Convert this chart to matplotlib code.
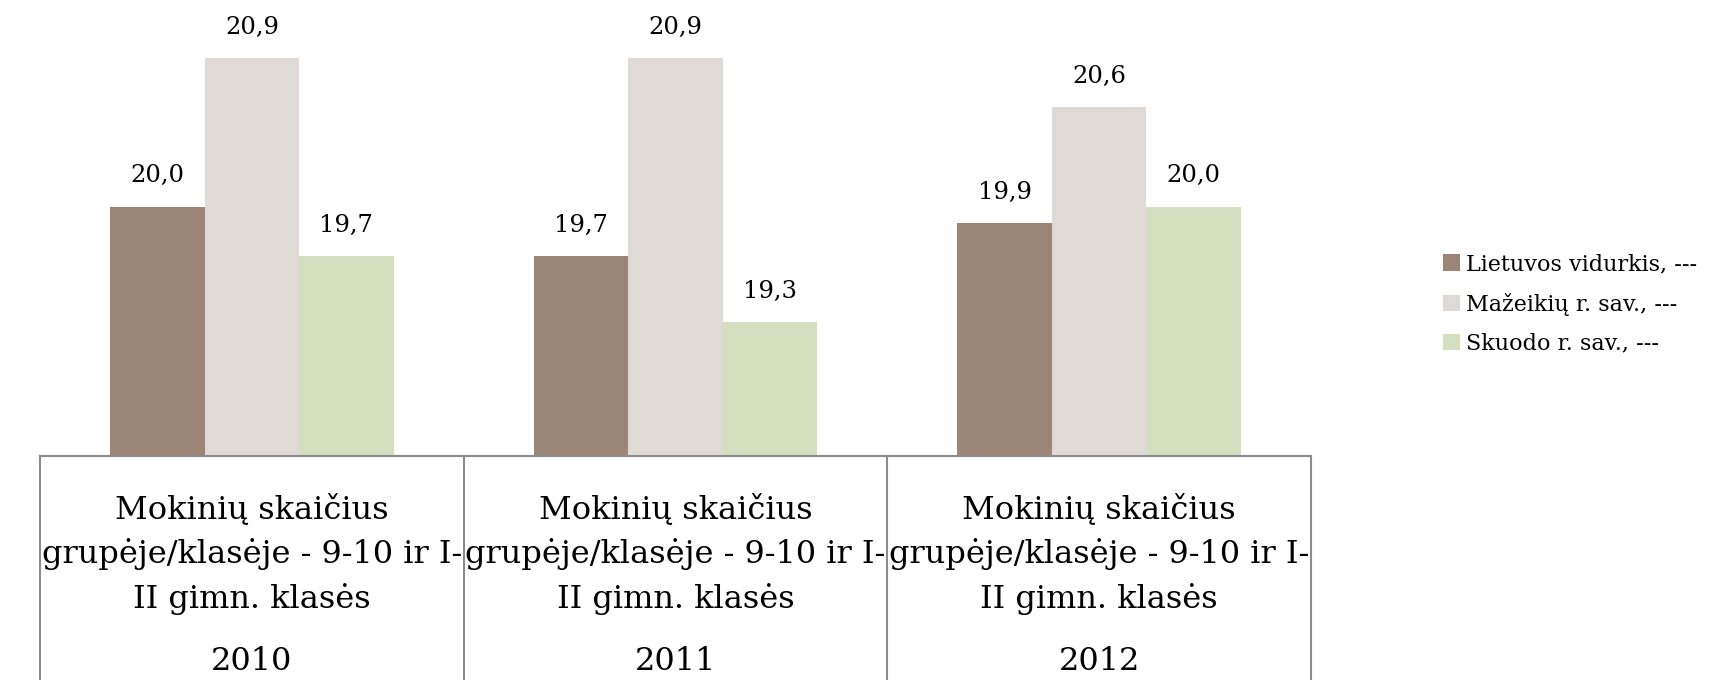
import matplotlib
matplotlib.use('Agg')
import matplotlib.pyplot as plt
import numpy as np
from matplotlib.patches import Patch

plt.rcParams['font.family'] = ['DejaVu Serif']

# duomenys
years = ['2010', '2011', '2012']
category = 'Mokinių skaičius\ngrupėje/klasėje - 9-10 ir I-\nII gimn. klasės'
series_names = ['Lietuvos vidurkis, ---', 'Mažeikių r. sav., ---', 'Skuodo r. sav., ---']
lietuva = [20.0, 19.7, 19.9]
mazeikiai = [20.9, 20.9, 20.6]
skuodas = [19.7, 19.3, 20.0]
colors = ['#9B8577', '#DFDAD6', '#D4DFBF']

W, H = 1713, 680
fig = plt.figure(figsize=(W / 100, H / 100), dpi=100)
ax = fig.add_axes([40 / W, (H - 456) / H, (1311 - 40) / W, 456 / H])

x = np.arange(len(years))
bw = 0.223
for k, (vals, col) in enumerate(zip([lietuva, mazeikiai, skuodas], colors)):
    xs = x + (k - 1) * bw
    ax.bar(xs, vals, width=bw, color=col, edgecolor='none')
    for xi, v in zip(xs, vals):
        ax.annotate(f'{v:.1f}'.replace('.', ','), (xi, v), xytext=(0, 22),
                    textcoords='offset points', ha='center', va='center', fontsize=17.5)

ax.set_xlim(-0.5, 2.5)
ax.set_ylim(18.49, 21.25)
for s in ['top', 'left', 'right']:
    ax.spines[s].set_visible(False)
ax.spines['bottom'].set_color('#8C8C8C')
ax.spines['bottom'].set_linewidth(1.5)
ax.set_xticks([])
ax.set_yticks([])

# kategorijų dėžutės po ašimi
tr = ax.get_xaxis_transform()
ybot = -(H - 456) / 456
for xv in [-0.5, 0.5, 1.5, 2.5]:
    ax.plot([xv, xv], [0, ybot], transform=tr, color='#8C8C8C', lw=1.5, clip_on=False)
for i, yr in enumerate(years):
    ax.text(i, -(554.5 - 456) / 456, category, transform=tr, ha='center', va='center',
            fontsize=23, linespacing=1.52)
    ax.text(i, -(662 - 456) / 456, yr, transform=tr, ha='center', va='center', fontsize=23)

handles = [Patch(facecolor=c, edgecolor='none') for c in colors]
fig.legend(handles, series_names, loc='center left', bbox_to_anchor=(1423 / W, 1 - 304 / H),
           frameon=False, fontsize=16, handlelength=0.75, handleheight=0.75,
           handletextpad=0.3, labelspacing=0.78)

fig.savefig('out.png', dpi=100)
